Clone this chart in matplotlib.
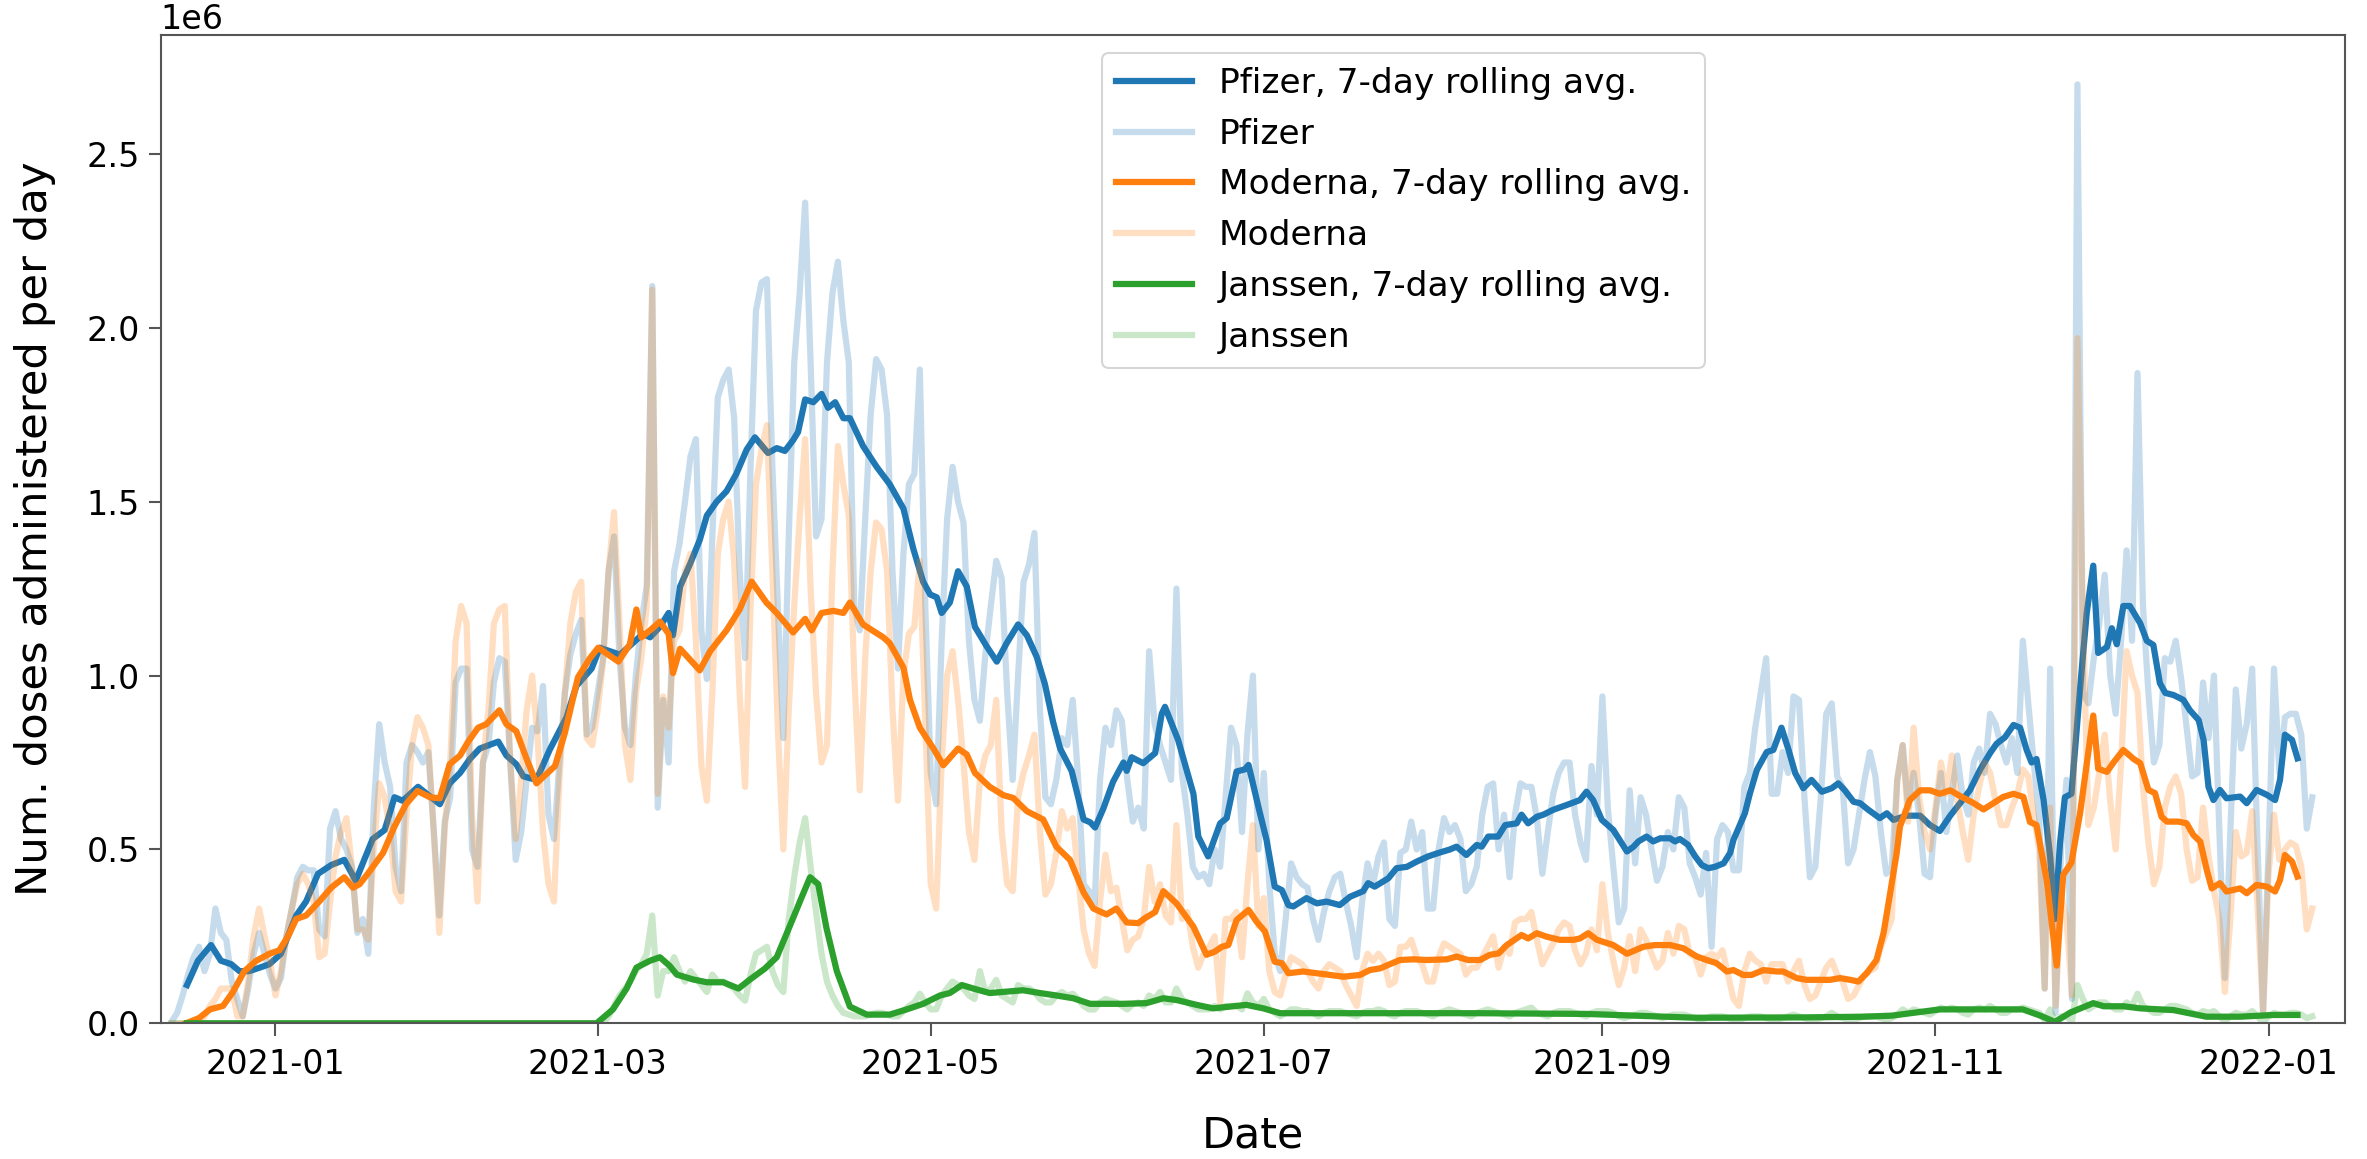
import numpy as np
import pandas as pd
import matplotlib
matplotlib.use("Agg")
import matplotlib.pyplot as plt
import matplotlib.dates as mdates

# ---------------- data (doses per day, in millions) ----------------
START_DATE = "2020-12-13"   # first raw observation (a Sunday); one row = one week Sun..Sat

PFIZER = [
    0.005, 0.03, 0.08, 0.14, 0.19, 0.22, 0.15,
    0.20, 0.33, 0.26, 0.24, 0.12, 0.07, 0.02,
    0.10, 0.20, 0.26, 0.20, 0.14, 0.10, 0.13,
    0.25, 0.33, 0.42, 0.45, 0.44, 0.44, 0.27,
    0.25, 0.56, 0.61, 0.53, 0.50, 0.45, 0.26,
    0.30, 0.20, 0.62, 0.86, 0.75, 0.68, 0.45,
    0.38, 0.75, 0.80, 0.78, 0.75, 0.78, 0.55,
    0.31, 0.58, 0.65, 0.98, 1.02, 1.02, 0.50,
    0.45, 0.75, 0.80, 0.98, 1.05, 1.04, 0.75,
    0.47, 0.55, 0.70, 0.85, 0.84, 0.97, 0.60,
    0.53, 0.75, 0.95, 1.06, 1.12, 1.16, 0.83,
    0.85, 0.95, 1.05, 1.30, 1.40, 1.05, 0.85,
    0.80, 1.00, 1.15, 1.26, 2.12, 0.62, 0.93,
    0.75, 1.30, 1.38, 1.50, 1.63, 1.68, 1.13,
    0.99, 1.40, 1.80, 1.85, 1.88, 1.74, 1.30,
    1.05, 1.60, 2.05, 2.13, 2.14, 1.60, 1.20,
    0.82, 1.40, 1.90, 2.10, 2.36, 1.90, 1.40,
    1.45, 1.90, 2.10, 2.19, 2.02, 1.90, 1.20,
    1.13, 1.45, 1.75, 1.91, 1.88, 1.75, 1.30,
    1.02, 1.35, 1.55, 1.58, 1.88, 1.20, 0.72,
    0.63, 1.10, 1.45, 1.60, 1.50, 1.44, 1.10,
    0.93, 0.87, 1.06, 1.20, 1.33, 1.28, 0.95,
    0.70, 1.00, 1.27, 1.32, 1.41, 0.90, 0.65,
    0.63, 0.70, 0.82, 0.80, 0.93, 0.70, 0.40,
    0.38, 0.34, 0.70, 0.85, 0.80, 0.90, 0.87,
    0.70, 0.58, 0.62, 0.56, 1.07, 0.86, 0.80,
    0.75, 0.70, 1.25, 0.72, 0.60, 0.45, 0.42,
    0.43, 0.40, 0.50, 0.45, 0.65, 0.85, 0.80,
    0.55, 0.83, 1.00, 0.50, 0.72, 0.40, 0.20,
    0.15, 0.30, 0.46, 0.42, 0.40, 0.39, 0.30,
    0.24, 0.32, 0.38, 0.42, 0.43, 0.35, 0.28,
    0.19, 0.35, 0.46, 0.40, 0.48, 0.52, 0.30,
    0.28, 0.49, 0.50, 0.58, 0.50, 0.55, 0.33,
    0.33, 0.50, 0.59, 0.55, 0.57, 0.53, 0.38,
    0.40, 0.45, 0.60, 0.68, 0.69, 0.50, 0.60,
    0.42, 0.60, 0.69, 0.68, 0.68, 0.59, 0.43,
    0.55, 0.66, 0.72, 0.75, 0.75, 0.60, 0.52,
    0.47, 0.74, 0.60, 0.94, 0.62, 0.45, 0.29,
    0.33, 0.67, 0.46, 0.65, 0.60, 0.50, 0.41,
    0.45, 0.55, 0.50, 0.65, 0.62, 0.46, 0.42,
    0.37, 0.49, 0.22, 0.53, 0.57, 0.55, 0.44,
    0.44, 0.68, 0.72, 0.85, 0.95, 1.05, 0.66,
    0.66, 0.78, 0.72, 0.94, 0.93, 0.65, 0.42,
    0.45, 0.65, 0.89, 0.92, 0.71, 0.68, 0.46,
    0.50, 0.60, 0.70, 0.78, 0.71, 0.55, 0.43,
    0.45, 0.70, 0.80, 0.62, 0.72, 0.60, 0.43,
    0.42, 0.60, 0.72, 0.55, 0.66, 0.77, 0.65,
    0.60, 0.75, 0.79, 0.72, 0.89, 0.86, 0.80,
    0.75, 0.82, 0.72, 1.10, 0.92, 0.75, 0.59,
    0.10, 1.02, 0.03, 0.50, 0.70, 0.07, 2.70,
    0.95, 0.92, 1.05, 1.15, 1.29, 1.00, 0.89,
    1.10, 1.36, 1.10, 1.87, 1.20, 0.95, 0.75,
    0.80, 1.05, 1.04, 1.10, 0.99, 0.85, 0.71,
    0.72, 0.98, 0.82, 1.00, 0.55, 0.13, 0.55,
    0.96, 0.79, 0.86, 1.02, 0.50, 0.03, 0.50,
    1.02, 0.72, 0.88, 0.89, 0.89, 0.83, 0.56,
    0.65,
]

MODERNA = [
    0.00, 0.00, 0.00, 0.00, 0.00, 0.00, 0.02,
    0.05, 0.07, 0.10, 0.10, 0.10, 0.02, 0.02,
    0.12, 0.25, 0.33, 0.25, 0.18, 0.08, 0.15,
    0.25, 0.33, 0.40, 0.43, 0.40, 0.35, 0.19,
    0.20, 0.35, 0.48, 0.55, 0.59, 0.45, 0.27,
    0.27, 0.24, 0.50, 0.69, 0.65, 0.55, 0.38,
    0.35, 0.60, 0.80, 0.88, 0.85, 0.80, 0.55,
    0.26, 0.56, 0.75, 1.10, 1.20, 1.15, 0.60,
    0.35, 0.75, 0.90, 1.15, 1.19, 1.20, 0.75,
    0.53, 0.70, 0.90, 1.00, 0.82, 0.55, 0.40,
    0.35, 0.70, 0.95, 1.15, 1.24, 1.27, 0.82,
    0.80, 0.90, 1.04, 1.30, 1.47, 1.15, 0.80,
    0.70, 0.95, 1.05, 1.20, 2.11, 0.66, 0.94,
    0.85, 1.10, 1.13, 1.30, 1.35, 1.10, 0.74,
    0.64, 0.95, 1.35, 1.45, 1.50, 1.33, 0.95,
    0.68, 1.20, 1.55, 1.65, 1.72, 1.30, 0.85,
    0.50, 0.90, 1.20, 1.45, 1.68, 1.25, 0.95,
    0.75, 0.80, 1.30, 1.66, 1.55, 1.46, 1.00,
    0.67, 1.05, 1.30, 1.44, 1.42, 1.30, 0.90,
    0.64, 1.00, 1.12, 1.14, 1.33, 0.87, 0.40,
    0.33, 0.75, 1.00, 1.07, 0.93, 0.75, 0.55,
    0.47, 0.70, 0.77, 0.80, 0.93, 0.55, 0.40,
    0.38, 0.65, 0.72, 0.77, 0.83, 0.55, 0.37,
    0.40, 0.49, 0.61, 0.56, 0.59, 0.42, 0.27,
    0.20, 0.165, 0.35, 0.485, 0.38, 0.39, 0.30,
    0.21, 0.24, 0.25, 0.30, 0.45, 0.35, 0.40,
    0.31, 0.29, 0.57, 0.30, 0.32, 0.22, 0.16,
    0.20, 0.22, 0.25, 0.06, 0.30, 0.30, 0.32,
    0.19, 0.40, 0.57, 0.28, 0.36, 0.15, 0.09,
    0.08, 0.14, 0.19, 0.18, 0.17, 0.15, 0.12,
    0.10, 0.15, 0.17, 0.16, 0.15, 0.11, 0.08,
    0.05, 0.15, 0.20, 0.18, 0.20, 0.18, 0.11,
    0.12, 0.22, 0.22, 0.24, 0.19, 0.17, 0.12,
    0.12, 0.19, 0.23, 0.22, 0.21, 0.20, 0.14,
    0.16, 0.16, 0.19, 0.22, 0.25, 0.16, 0.22,
    0.20, 0.29, 0.30, 0.30, 0.32, 0.24, 0.17,
    0.20, 0.23, 0.27, 0.29, 0.28, 0.21, 0.17,
    0.20, 0.27, 0.21, 0.40, 0.26, 0.18, 0.11,
    0.16, 0.25, 0.15, 0.27, 0.24, 0.20, 0.16,
    0.18, 0.26, 0.20, 0.28, 0.27, 0.20, 0.19,
    0.14, 0.19, 0.20, 0.19, 0.21, 0.14, 0.07,
    0.05, 0.15, 0.20, 0.18, 0.17, 0.12, 0.17,
    0.17, 0.17, 0.12, 0.15, 0.18, 0.11, 0.07,
    0.08, 0.12, 0.16, 0.18, 0.14, 0.12, 0.07,
    0.08, 0.11, 0.14, 0.15, 0.16, 0.22, 0.26,
    0.30, 0.70, 0.80, 0.58, 0.85, 0.65, 0.55,
    0.50, 0.62, 0.75, 0.66, 0.77, 0.64, 0.55,
    0.47, 0.60, 0.68, 0.75, 0.72, 0.64, 0.57,
    0.57, 0.62, 0.66, 0.73, 0.71, 0.60, 0.50,
    0.10, 0.62, 0.05, 0.37, 0.30, 0.08, 1.97,
    1.18, 0.57, 0.62, 0.72, 0.83, 0.64, 0.50,
    0.75, 1.07, 1.00, 0.95, 0.68, 0.52, 0.40,
    0.45, 0.62, 0.68, 0.71, 0.66, 0.50, 0.41,
    0.42, 0.62, 0.48, 0.38, 0.30, 0.09, 0.30,
    0.55, 0.48, 0.49, 0.61, 0.33, 0.03, 0.43,
    0.60, 0.47, 0.50, 0.52, 0.51, 0.45, 0.27,
    0.33,
]

JANSSEN = [
    0, 0, 0, 0, 0, 0, 0,
    0, 0, 0, 0, 0, 0, 0,
    0, 0, 0, 0, 0, 0, 0,
    0, 0, 0, 0, 0, 0, 0,
    0, 0, 0, 0, 0, 0, 0,
    0, 0, 0, 0, 0, 0, 0,
    0, 0, 0, 0, 0, 0, 0,
    0, 0, 0, 0, 0, 0, 0,
    0, 0, 0, 0, 0, 0, 0,
    0, 0, 0, 0, 0, 0, 0,
    0, 0, 0, 0, 0, 0, 0,
    0, 0, 0, 0.02, 0.05, 0.08, 0.10,
    0.12, 0.15, 0.17, 0.20, 0.31, 0.08, 0.15,
    0.15, 0.19, 0.15, 0.12, 0.15, 0.13, 0.11,
    0.09, 0.14, 0.12, 0.12, 0.11, 0.10, 0.08,
    0.065, 0.14, 0.20, 0.21, 0.22, 0.15, 0.11,
    0.09, 0.30, 0.42, 0.52, 0.59, 0.45, 0.32,
    0.20, 0.12, 0.08, 0.05, 0.03, 0.025, 0.02,
    0.02, 0.02, 0.025, 0.03, 0.03, 0.025, 0.02,
    0.02, 0.035, 0.05, 0.06, 0.085, 0.06, 0.04,
    0.04, 0.08, 0.10, 0.12, 0.11, 0.10, 0.08,
    0.07, 0.15, 0.09, 0.10, 0.125, 0.08, 0.07,
    0.06, 0.11, 0.10, 0.10, 0.09, 0.07, 0.06,
    0.06, 0.08, 0.09, 0.08, 0.085, 0.07, 0.05,
    0.04, 0.04, 0.06, 0.07, 0.065, 0.06, 0.05,
    0.04, 0.055, 0.06, 0.05, 0.08, 0.07, 0.09,
    0.06, 0.06, 0.10, 0.07, 0.06, 0.05, 0.04,
    0.04, 0.04, 0.05, 0.04, 0.05, 0.05, 0.05,
    0.04, 0.086, 0.06, 0.05, 0.07, 0.04, 0.03,
    0.02, 0.03, 0.04, 0.04, 0.035, 0.035, 0.03,
    0.02, 0.03, 0.035, 0.035, 0.035, 0.03, 0.025,
    0.02, 0.03, 0.035, 0.035, 0.04, 0.035, 0.025,
    0.02, 0.03, 0.035, 0.035, 0.035, 0.03, 0.025,
    0.02, 0.03, 0.035, 0.04, 0.035, 0.03, 0.025,
    0.02, 0.03, 0.035, 0.04, 0.035, 0.03, 0.025,
    0.02, 0.03, 0.035, 0.04, 0.045, 0.03, 0.025,
    0.02, 0.03, 0.035, 0.035, 0.035, 0.03, 0.025,
    0.02, 0.03, 0.035, 0.035, 0.035, 0.03, 0.02,
    0.015, 0.02, 0.025, 0.03, 0.03, 0.025, 0.02,
    0.015, 0.02, 0.025, 0.025, 0.025, 0.02, 0.015,
    0.01, 0.015, 0.02, 0.02, 0.02, 0.015, 0.01,
    0.01, 0.015, 0.02, 0.02, 0.02, 0.015, 0.01,
    0.01, 0.015, 0.02, 0.025, 0.02, 0.015, 0.01,
    0.01, 0.015, 0.02, 0.03, 0.02, 0.015, 0.01,
    0.01, 0.015, 0.02, 0.02, 0.02, 0.015, 0.01,
    0.015, 0.025, 0.04, 0.03, 0.04, 0.035, 0.03,
    0.025, 0.035, 0.045, 0.04, 0.045, 0.04, 0.03,
    0.025, 0.04, 0.045, 0.04, 0.05, 0.04, 0.03,
    0.03, 0.04, 0.04, 0.045, 0.04, 0.035, 0.03,
    0.01, 0.04, 0.00, 0.02, 0.02, 0.005, 0.11,
    0.07, 0.04, 0.05, 0.06, 0.06, 0.05, 0.04,
    0.04, 0.06, 0.05, 0.085, 0.05, 0.04, 0.03,
    0.03, 0.04, 0.05, 0.05, 0.045, 0.04, 0.03,
    0.025, 0.035, 0.03, 0.035, 0.02, 0.005, 0.02,
    0.03, 0.025, 0.025, 0.035, 0.02, 0.002, 0.02,
    0.03, 0.025, 0.025, 0.03, 0.03, 0.025, 0.015,
    0.02,
]

# 7-day rolling averages as published (days since 2021-01-01, value in millions)
AVG_ORIGIN = "2021-01-01"
PFIZER_AVG_DAY = [
    -16.2, -14.2, -11.8, -10.0, -8.1, -6.6, -4.8, -2.9, -1.1, 1.0, 3.8, 5.6, 7.8, 10.2,
    12.6, 14.7, 16.0, 17.8, 20.0, 21.8, 23.3, 26.1, 27.7, 30.1, 31.9, 33.8, 35.6, 37.4,
    40.8, 42.3, 44.1, 45.4, 47.8, 50.2, 53.3, 55.1, 57.9, 59.4, 63.1, 65.2, 67.3, 68.6,
    70.4, 72.0, 72.8, 74.1, 75.9, 77.7, 79.0, 80.8, 82.6, 84.4, 86.3, 87.8, 90.2, 91.8,
    93.3, 94.8, 95.7, 97.0, 98.5, 100.0, 101.2, 102.5, 104.0, 105.2, 107.6, 110.1, 112.5,
    115.0, 116.8, 118.6, 119.9, 121.1, 122.0, 123.5, 125.0, 126.6, 128.1, 130.2, 132.1,
    133.9, 136.0, 137.6, 139.4, 140.9, 142.4, 143.7, 145.8, 148.0, 149.2, 150.1, 151.6,
    153.4, 155.3, 155.9, 156.8, 158.9, 161.1, 162.3, 162.9, 165.3, 168.1, 169.0, 170.8,
    173.0, 174.2, 176.0, 177.5, 178.2, 180.0, 181.5, 183.0, 184.3, 185.5, 186.4, 188.8,
    190.7, 192.5, 194.9, 196.8, 199.2, 200.1, 201.3, 203.8, 205.3, 207.2, 209.0, 211.1,
    213.0, 215.1, 216.3, 218.1, 220.0, 220.9, 222.1, 223.9, 225.2, 227.3, 228.2, 229.4,
    231.0, 232.2, 234.0, 236.5, 238.9, 240.1, 241.3, 242.9, 245.0, 247.5, 248.7, 249.6,
    251.1, 252.3, 253.6, 255.4, 256.3, 257.2, 258.7, 260.0, 261.2, 262.4, 263.6, 265.2,
    266.4, 267.0, 269.1, 270.0, 271.3, 273.1, 274.3, 275.8, 277.1, 278.3, 279.8, 281.3,
    283.2, 285.0, 286.2, 287.4, 289.0, 290.2, 291.7, 293.8, 295.1, 296.3, 298.7, 301.2,
    303.0, 304.8, 306.7, 308.5, 310.3, 312.2, 314.0, 315.2, 316.7, 318.3, 319.5, 320.7,
    321.6, 322.5, 323.8, 325.0, 325.9, 326.8, 327.7, 328.9, 330.5, 331.7, 332.9, 333.8,
    335.4, 336.3, 337.2, 338.4, 339.6, 341.5, 342.7, 343.9, 345.1, 346.1, 347.6, 349.4,
    350.6, 352.2, 353.1, 354.0, 354.9, 356.1, 357.3, 359.8, 361.0, 362.8, 364.7, 366.2,
    367.1, 368.0, 369.3, 370.3,
]
PFIZER_AVG = [
    0.11, 0.18, 0.225, 0.18, 0.17, 0.15, 0.15, 0.16, 0.17, 0.20, 0.31, 0.35, 0.43, 0.455,
    0.47, 0.41, 0.46, 0.53, 0.556, 0.65, 0.64, 0.68, 0.66, 0.63, 0.69, 0.72, 0.76, 0.79,
    0.81, 0.77, 0.745, 0.71, 0.70, 0.786, 0.88, 0.97, 1.02, 1.08, 1.06, 1.09, 1.12, 1.11,
    1.14, 1.18, 1.116, 1.256, 1.32, 1.39, 1.46, 1.50, 1.53, 1.58, 1.65, 1.685, 1.64, 1.654,
    1.646, 1.677, 1.70, 1.794, 1.786, 1.81, 1.77, 1.786, 1.74, 1.74, 1.66, 1.60, 1.55,
    1.48, 1.365, 1.27, 1.233, 1.225, 1.18, 1.21, 1.30, 1.256, 1.14, 1.085, 1.04,
    1.093, 1.147, 1.116, 1.054, 0.976, 0.867, 0.79, 0.726, 0.586, 0.578, 0.563, 0.617,
    0.695, 0.75, 0.726, 0.765, 0.748, 0.777, 0.89, 0.91, 0.815, 0.66, 0.537, 0.48,
    0.575, 0.59, 0.724, 0.73, 0.743, 0.623, 0.527, 0.393, 0.383, 0.34, 0.336, 0.36,
    0.345, 0.35, 0.34, 0.364, 0.38, 0.403, 0.393, 0.417, 0.446, 0.45, 0.465, 0.48,
    0.49, 0.50, 0.508, 0.484, 0.513, 0.508, 0.537, 0.537, 0.57, 0.575, 0.60, 0.575,
    0.594, 0.60, 0.614, 0.628, 0.642, 0.666, 0.642, 0.585, 0.556, 0.494, 0.508, 0.523,
    0.537, 0.523, 0.532, 0.532, 0.523, 0.53, 0.513, 0.48, 0.455, 0.446, 0.45, 0.46,
    0.49, 0.527, 0.604, 0.66, 0.729, 0.78, 0.786, 0.85, 0.786, 0.72, 0.676, 0.70,
    0.666, 0.676, 0.69, 0.67, 0.637, 0.633, 0.614, 0.59, 0.604, 0.585, 0.597, 0.597,
    0.57, 0.553, 0.597, 0.633, 0.67, 0.73, 0.777, 0.804, 0.822, 0.858, 0.85, 0.786,
    0.75, 0.76, 0.642, 0.48, 0.30, 0.517, 0.65, 0.66, 0.966, 1.18, 1.316, 1.065,
    1.082, 1.136, 1.09, 1.20, 1.20, 1.15, 1.10, 1.088, 0.978, 0.95, 0.944, 0.93,
    0.90, 0.872, 0.815, 0.68, 0.642, 0.671, 0.647, 0.652, 0.633, 0.671, 0.657, 0.642,
    0.70, 0.83, 0.815, 0.762,
]

MODERNA_AVG_DAY = [
    -16.4, -14.0, -12.0, -9.6, -7.8, -5.7, -3.5, -1.1, 0.7, 2.3, 3.8, 5.6, 8.0, 10.2, 12.6,
    14.2, 15.4, 16.9, 19.7, 21.8, 23.9, 26.0, 28.3, 30.1, 31.9, 33.8, 35.3, 37.1, 38.6,
    41.0, 42.3, 44.1, 46.0, 47.8, 51.2, 53.0, 55.4, 57.6, 59.1, 62.8, 64.9, 66.1, 67.0,
    68.6, 70.4, 72.0, 72.8, 74.1, 75.9, 77.7, 79.6, 82.6, 85.0, 87.2, 89.9, 91.8, 94.8,
    97.0, 98.2, 100.0, 102.2, 104.0, 105.2, 107.6, 111.3, 112.5, 115.0, 116.2, 118.0,
    120.5, 122.3, 125.0, 126.6, 128.1, 130.8, 133.3, 135.1, 137.6, 140.6, 143.0, 145.5,
    148.0, 149.8, 152.2, 154.0, 155.9, 158.0, 159.2, 161.1, 162.6, 165.0, 168.1, 170.5,
    172.0, 173.3, 174.5, 176.0, 178.2, 179.7, 181.2, 183.0, 184.3, 185.5, 188.2, 190.7,
    193.1, 195.6, 198.6, 200.4, 202.3, 205.9, 208.4, 210.8, 214.5, 216.3, 218.4, 220.6,
    222.4, 224.0, 225.5, 228.2, 229.4, 231.0, 232.8, 235.2, 237.7, 238.9, 240.4, 242.0,
    245.0, 247.5, 250.5, 252.6, 255.4, 257.8, 260.3, 262.1, 263.9, 265.8, 267.0, 268.8,
    270.3, 272.5, 274.9, 276.1, 278.6, 280.4, 282.2, 284.7, 286.5, 288.4, 289.9, 291.4,
    293.2, 294.5, 295.7, 296.9, 297.5, 299.3, 301.2, 303.0, 304.8, 306.7, 308.8, 311.0,
    312.8, 314.6, 316.4, 318.3, 320.1, 321.3, 322.5, 324.4, 326.2, 327.4, 328.9, 330.5,
    332.9, 333.8, 335.4, 336.6, 338.4, 340.3, 341.5, 343.0, 344.2, 345.4, 346.4, 348.5,
    350.0, 351.2, 352.5, 353.7, 354.6, 356.1, 357.3, 359.8, 361.0, 362.8, 364.7, 366.2,
    367.1, 368.0, 369.3, 370.3,
]
MODERNA_AVG = [
    0.0, 0.015, 0.04, 0.05, 0.09, 0.15, 0.18, 0.20, 0.21, 0.25, 0.30, 0.31, 0.35, 0.39, 0.42,
    0.39, 0.40, 0.43, 0.49, 0.566, 0.63, 0.668, 0.65, 0.647, 0.745, 0.77, 0.81, 0.85, 0.86,
    0.90, 0.86, 0.84, 0.76, 0.69, 0.74, 0.835, 0.995, 1.05, 1.08, 1.04, 1.09, 1.19, 1.11,
    1.13, 1.155, 1.12, 1.007, 1.077, 1.046, 1.015, 1.07, 1.13, 1.19, 1.27, 1.21, 1.18, 1.124,
    1.163, 1.13, 1.18, 1.186, 1.18, 1.21, 1.147, 1.11, 1.093, 1.023, 0.93, 0.85,
    0.79, 0.742, 0.79, 0.773, 0.72, 0.68, 0.656, 0.648, 0.61, 0.586, 0.508, 0.47,
    0.376, 0.33, 0.313, 0.33, 0.29, 0.288, 0.302, 0.32, 0.38, 0.345, 0.278, 0.197,
    0.206, 0.22, 0.225, 0.297, 0.326, 0.292, 0.264, 0.177, 0.173, 0.144, 0.149, 0.144,
    0.139, 0.134, 0.139, 0.153, 0.158, 0.182, 0.184, 0.182, 0.184, 0.192, 0.182, 0.182,
    0.197, 0.201, 0.225, 0.254, 0.244, 0.259, 0.249, 0.24, 0.24, 0.244, 0.259, 0.24,
    0.225, 0.20, 0.22, 0.225, 0.225, 0.216, 0.192, 0.182, 0.173, 0.149, 0.153, 0.139,
    0.139, 0.153, 0.149, 0.149, 0.13, 0.125, 0.125, 0.125, 0.13, 0.125, 0.12, 0.144,
    0.182, 0.26, 0.374, 0.49, 0.566, 0.642, 0.67, 0.67, 0.66, 0.67, 0.651, 0.633,
    0.615, 0.633, 0.651, 0.66, 0.651, 0.579, 0.57, 0.409, 0.166, 0.427, 0.462, 0.606,
    0.885, 0.732, 0.723, 0.75, 0.786, 0.76, 0.748, 0.671, 0.662, 0.594, 0.58, 0.58,
    0.575, 0.542, 0.522, 0.44, 0.388, 0.403, 0.379, 0.388, 0.374, 0.398, 0.393, 0.379,
    0.412, 0.484, 0.465, 0.422,
]

JANSSEN_AVG_DAY = [
    -16.2, 58.8, 61.8, 64.3, 66.1, 68.6, 70.4, 72.2, 73.5, 76.5, 79.0, 82.0, 84.8, 86.9,
    89.6, 91.8, 94.2, 96.3, 97.9, 99.4, 100.9, 102.8, 105.2, 108.3, 112.5, 115.6, 118.6,
    121.7, 123.5, 125.7, 127.8, 130.8, 136.9, 140.0, 143.0, 146.1, 149.2, 155.3, 159.5,
    162.6, 165.0, 168.7, 171.7, 174.8, 177.8, 180.9, 184.0, 196.2, 204.0, 220.0, 240.0,
    249.0, 260.0, 280.0, 291.0, 296.0, 304.8, 314.0, 320.0, 323.2, 325.9, 328.7, 332.9,
    334.8, 338.4, 341.5, 347.6, 353.6, 359.8, 365.9, 370.3,
]
JANSSEN_AVG = [
    0.0, 0.0, 0.04, 0.10, 0.16, 0.18, 0.19, 0.165, 0.14, 0.126, 0.118, 0.118, 0.10, 0.126,
    0.157, 0.19, 0.28, 0.36, 0.42, 0.40, 0.274, 0.15, 0.048, 0.025, 0.025, 0.04, 0.056,
    0.08, 0.087, 0.11, 0.10, 0.087, 0.095, 0.087, 0.08, 0.072, 0.056, 0.056, 0.058,
    0.072, 0.067, 0.053, 0.043, 0.048, 0.053, 0.043, 0.029, 0.029, 0.029, 0.029, 0.027,
    0.022, 0.016, 0.017, 0.019, 0.022, 0.04, 0.04, 0.04, 0.022, 0.004, 0.031, 0.058,
    0.049, 0.049, 0.043, 0.038, 0.019, 0.019, 0.024, 0.024,
]

LABELS = ["Pfizer", "Moderna", "Janssen"]
COLORS = ["#1f77b4", "#ff7f0e", "#2ca02c"]

# ---------------- figure ----------------
W, H, DPI = 2367, 1159, 150
fig = plt.figure(figsize=(W / DPI, H / DPI), dpi=DPI)
ax = fig.add_axes([160.8 / W, 1 - 1023.3 / H, (2345 - 160.8) / W, (1023.3 - 35) / H])

raw_dates = pd.date_range(START_DATE, periods=len(PFIZER), freq="D")
origin = pd.Timestamp(AVG_ORIGIN)

def avg_dates(days):
    return origin + pd.to_timedelta(np.asarray(days, dtype=float), unit="D")

series = [
    (PFIZER, PFIZER_AVG_DAY, PFIZER_AVG),
    (MODERNA, MODERNA_AVG_DAY, MODERNA_AVG),
    (JANSSEN, JANSSEN_AVG_DAY, JANSSEN_AVG),
]

for (raw, avg_day, avg), lab, col in zip(series, LABELS, COLORS):
    ax.plot(avg_dates(avg_day), np.asarray(avg) * 1e6, color=col, lw=3.0,
            label=f"{lab}, 7-day rolling avg.")
    ax.plot(raw_dates[:len(raw)], np.asarray(raw, dtype=float) * 1e6, color=col,
            lw=3.0, alpha=0.25, label=lab)

ax.set_xlim(pd.Timestamp("2020-12-11"), pd.Timestamp("2022-01-15"))
ax.set_ylim(0, 2.842e6)

ax.xaxis.set_major_locator(mdates.MonthLocator(bymonth=[1, 3, 5, 7, 9, 11]))
ax.xaxis.set_major_formatter(mdates.DateFormatter("%Y-%m"))
ax.set_yticks([0, 0.5e6, 1.0e6, 1.5e6, 2.0e6, 2.5e6])

ax.tick_params(axis="both", labelsize=16, colors="#555555", labelcolor="black",
               length=6, width=1.0)
ax.tick_params(axis="x", pad=6)
ax.tick_params(axis="y", pad=4)
ax.yaxis.get_offset_text().set_fontsize(16)

for sp in ax.spines.values():
    sp.set_color("#555555")
    sp.set_linewidth(1.0)

ax.set_xlabel("Date", fontsize=20.5)
ax.set_ylabel("Num. doses administered per day", fontsize=20.8)
ax.xaxis.set_label_coords(0.5, -0.092)
ax.yaxis.set_label_coords(-0.048, 0.5)

ax.legend(loc="upper left", bbox_to_anchor=(0.431, 0.9818), borderaxespad=0,
          fontsize=16.5, handlelength=2.2, labelspacing=0.52, framealpha=0.8)

fig.savefig("out.png", dpi=DPI)
